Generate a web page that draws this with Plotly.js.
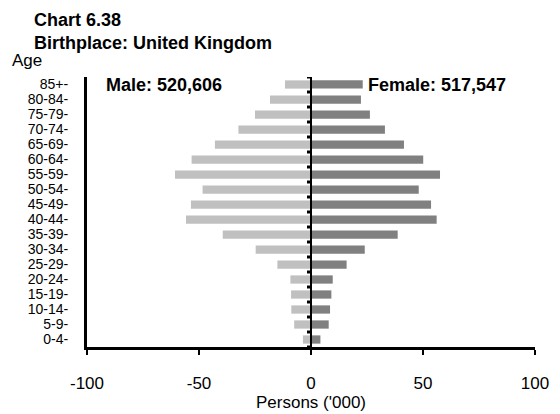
<!DOCTYPE html>
<html>
<head>
<meta charset="utf-8">
<script src="https://cdn.plot.ly/plotly-3.0.1.min.js"></script>
<style>html,body{margin:0;padding:0;background:#fff;}#chart{width:560px;height:414px;}</style>
</head>
<body>
<div id="chart"></div>
<script>
// Age groups, bottom to top
var ageGroups = ['0-4','5-9','10-14','15-19','20-24','25-29','30-34','35-39','40-44','45-49','50-54','55-59','60-64','65-69','70-74','75-79','80-84','85+'];
var ageLabels = ['0-4-','5-9-','10-14-','15-19-','20-24-','25-29-','30-34-','35-39-','40-44-','45-49-','50-54-','55-59-','60-64-','65-69-','70-74-','75-79-','80-84-','85+-'];
// Persons ('000)
var maleValues   = [3.6, 7.5, 8.8, 8.9, 9.2, 15.0, 24.7, 39.4, 55.8, 53.6, 48.4, 60.7, 53.3, 42.9, 32.4, 25.0, 18.3, 11.6];
var femaleValues = [4.2, 7.9, 8.5, 9.1, 9.7, 15.9, 24.0, 38.7, 56.1, 53.6, 48.1, 57.6, 50.1, 41.5, 33.0, 26.3, 22.3, 23.1];
var xTickVals = [-100, -50, 0, 50, 100];
var xTickText = ['-100', '-50', '0', '50', '100'];
var maleLabel = 'Male: 520,606';
var femaleLabel = 'Female: 517,547';
var titleLines = ['Chart 6.38', 'Birthplace: United Kingdom'];

var FONT = 'Liberation Sans, Arial, Helvetica, sans-serif';

var traces = [
  {
    type: 'bar', orientation: 'h', name: 'Male',
    y: ageGroups, x: maleValues.map(function(v){ return -v; }),
    marker: {color: '#c0c0c0'}, width: 0.55,
    hoverinfo: 'skip'
  },
  {
    type: 'bar', orientation: 'h', name: 'Female',
    y: ageGroups, x: femaleValues,
    marker: {color: '#808080'}, width: 0.55,
    hoverinfo: 'skip'
  }
];

// central axis line at 0 with small tick marks at the category boundaries
var shapes = [
  {type: 'line', xref: 'x', yref: 'paper', x0: 0, x1: 0, y0: 0, y1: 1,
   line: {color: '#000', width: 2}, layer: 'above'}
];
for (var i = 0; i <= ageGroups.length; i++) {
  shapes.push({type: 'line', xref: 'x', yref: 'y', xsizemode: 'pixel', xanchor: 0,
    x0: -4, x1: 0, y0: i - 0.5, y1: i - 0.5,
    line: {color: '#000', width: 3}, layer: 'above'});
}

var layout = {
  width: 560, height: 414,
  margin: {l: 87, r: 25, t: 77, b: 67},
  paper_bgcolor: '#fff', plot_bgcolor: '#fff',
  showlegend: false,
  barmode: 'overlay',
  font: {family: FONT, color: '#000'},
  xaxis: {
    range: [-100, 100], showgrid: false, zeroline: false,
    tickmode: 'array', tickvals: xTickVals, ticktext: xTickText,
    ticks: 'outside', ticklen: 5, tickwidth: 2, tickcolor: '#000',
    showline: true, linewidth: 3, linecolor: '#000',
    tickfont: {family: FONT, size: 17, color: '#000'},
    ticklabelstandoff: 14,
    title: {text: "Persons ('000)", font: {family: FONT, size: 17, color: '#000'}, standoff: 4},
    fixedrange: true
  },
  yaxis: {
    type: 'category', categoryorder: 'array', categoryarray: ageGroups,
    tickmode: 'array', tickvals: ageGroups, ticktext: ageLabels,
    range: [-0.5, 17.5], showgrid: false, zeroline: false,
    showline: true, linewidth: 3, linecolor: '#000',
    ticks: '',
    tickfont: {family: FONT, size: 14, color: '#000'},
    ticklabelstandoff: 13,
    fixedrange: true
  },
  shapes: shapes,
  annotations: [
    {text: '<b>' + titleLines[0] + '</b><br><b>' + titleLines[1] + '</b>',
     xref: 'paper', yref: 'paper', x: (32 - 87) / 448, y: 1 + (77 - 31) / 270,
     xanchor: 'left', yanchor: 'middle', align: 'left', showarrow: false,
     font: {family: FONT, size: 18, color: '#000'}},
    {text: '<b>' + maleLabel + '</b>', xref: 'x', yref: 'y', x: -92.5, y: '85+',
     xanchor: 'left', yanchor: 'middle', showarrow: false,
     font: {family: FONT, size: 18, color: '#000'}},
    {text: '<b>' + femaleLabel + '</b>', xref: 'x', yref: 'y', x: 24.5, y: '85+',
     xanchor: 'left', yanchor: 'middle', showarrow: false,
     font: {family: FONT, size: 18, color: '#000'}},
    {text: 'Age', xref: 'paper', yref: 'paper', x: -77/448, y: 1 + 17/270,
     xanchor: 'left', yanchor: 'middle', showarrow: false,
     font: {family: FONT, size: 17, color: '#000'}}
  ]
};

Plotly.newPlot('chart', traces, layout, {displayModeBar: false, staticPlot: true});
</script>
</body>
</html>
